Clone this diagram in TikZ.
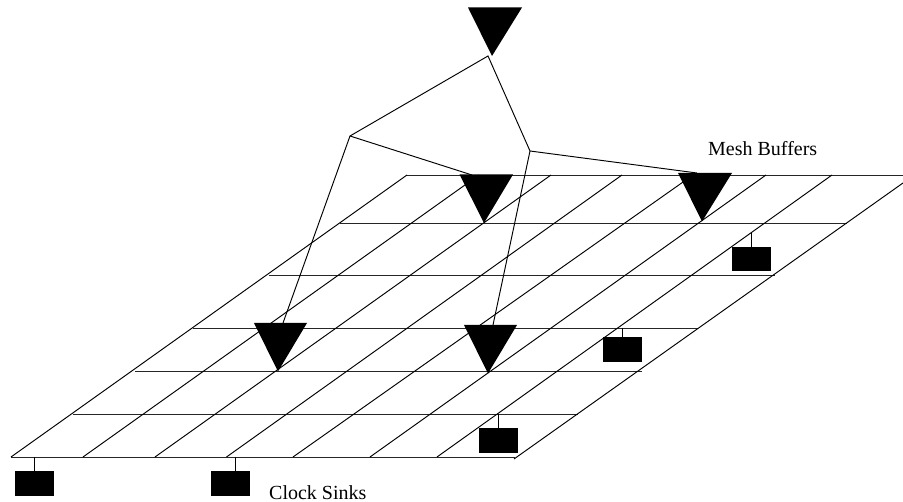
\documentclass[tikz,border=0pt]{standalone}
\usepackage{fontspec}
\setmainfont{Liberation Serif}
\tikzset{
  wire/.style={draw=black,line width=0.95pt},
  gridline/.style={draw=black!85,line width=0.95pt},
  sinkbox/.style={fill=black,draw=none,inner sep=0pt,minimum width=39pt,minimum height=24.5pt},
  buffer/.style={fill=black,draw=none},
  lbl/.style={font=\fontsize{20pt}{22pt}\selectfont,anchor=base west,inner sep=0pt,text=black}
}
\newcommand{\meshbuf}[4]{% left x, right x, top y, apex x: apex is 48 below
  \fill[buffer] (#1,#3) -- (#2,#3) -- (#4,#3+48.5) -- cycle;}
\begin{document}
\begin{tikzpicture}[x=1pt,y=-1pt]
\useasboundingbox (0,0) rectangle (903,502);
% horizontal mesh lines
\foreach \xa/\xb/\yy in {407/903/175,340/847/223,269/775/275.5,193/698/328,135/642/371,72.5/578/414,11/515/457}
  \draw[gridline] (\xa,\yy) -- (\xb,\yy);
% diagonal mesh lines
\foreach \xa/\xb in {11/407,83/479,155/551,226.5/622,293/693,370/766,437/832}
  \draw[wire] (\xa,457) -- (\xb,175);
\draw[wire] (514,459) -- (903,183);
% tree junctions and ends
\coordinate (root) at (488,56);
\coordinate (jl) at (350,136);
\coordinate (jr) at (530,151);
\coordinate (b1) at (472,175);
\coordinate (b2) at (697,173);
\coordinate (b3) at (283,323);
\coordinate (b4) at (493,325);
\draw[wire] (b3) -- (jl) -- (root) -- (jr) -- (b4);
\draw[wire] (jl) -- (b1);
\draw[wire] (jr) -- (b2);
% buffers
\fill[buffer] (468,7.5) -- (522,7.5) -- (492,56) -- cycle;
\meshbuf{459.5}{513}{174.5}{484}
\meshbuf{678}{732}{173}{702}
\meshbuf{254}{307}{323}{278}
\meshbuf{464}{517}{325}{488}
% sinks
\node[sinkbox] (s1) at (34.5,483.5) {};
\node[sinkbox] (s2) at (230.5,483.5) {};
\node[sinkbox] (s3) at (498,440.5) {};
\node[sinkbox] (s4) at (622.5,349.5) {};
\node[sinkbox] (s5) at (751.5,259) {};
\coordinate (t1) at (34.5,457);
\coordinate (t2) at (235,457);
\coordinate (t3) at (498,414);
\coordinate (t4) at (622.5,328);
\coordinate (t5) at (751.5,233);
\draw[wire] (t1) -- (t1 |- s1.north);
\draw[wire] (t2) -- (t2 |- s2.north);
\draw[wire] (t3) -- (t3 |- s3.north);
\draw[wire] (t4) -- (t4 |- s4.north);
\draw[wire] (t5) -- (t5 |- s5.north);
% labels
\node[lbl] (mesh) at (708,156) {Mesh Buffers};
\node[lbl] (clock) at (269,500) {Clock Sinks};
\end{tikzpicture}
\end{document}
